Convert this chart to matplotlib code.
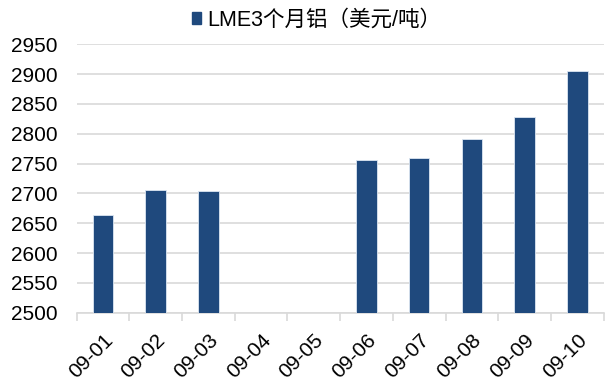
import numpy as np
import matplotlib
matplotlib.use("Agg")
import matplotlib.pyplot as plt
from matplotlib.patches import Patch

plt.rcParams['font.family'] = ['Liberation Sans', 'Noto Sans CJK SC', 'DejaVu Sans']

dates = ["09-01", "09-02", "09-03", "09-04", "09-05",
         "09-06", "09-07", "09-08", "09-09", "09-10"]
# no quotes on 09-04 / 09-05
prices = [2664, 2705, 2704, np.nan, np.nan, 2756, 2759, 2791, 2828, 2905]
series_name = "LME3个月铝（美元/吨）"
yticks = [2500, 2550, 2600, 2650, 2700, 2750, 2800, 2850, 2900, 2950]

BAR = "#1F497D"
GRID = "#D9D9D9"

fig = plt.figure(figsize=(6.06, 3.81), dpi=100)
ax = fig.add_axes([0.1266, 0.1793, 0.8695, 0.7044])

x = np.arange(len(dates))
ax.bar(x, prices, width=0.39, color=BAR, edgecolor="#DCE6F2", linewidth=0.6, zorder=3)

ax.set_xlim(-0.5, len(dates) - 0.5)
ax.set_ylim(2500, 2950)
ax.set_yticks(yticks)
ax.tick_params(axis="y", length=0, labelsize=15, pad=14)
ax.yaxis.grid(True, color=GRID, linewidth=1.2, zorder=0)

# category labels in the middle, tick marks on the boundaries
ax.set_xticks(x)
ax.set_xticklabels(dates, rotation=45, ha="right", rotation_mode="anchor", fontsize=15)
ax.tick_params(axis="x", which="major", length=0, pad=13)
ax.set_xticks(np.arange(-0.5, len(dates), 1), minor=True)
ax.tick_params(axis="x", which="minor", length=6, color=GRID, width=1.2)

for s in ["top", "right", "left"]:
    ax.spines[s].set_visible(False)
ax.spines["bottom"].set_color(GRID)
ax.spines["bottom"].set_linewidth(1.2)

fig.legend(handles=[Patch(color=BAR)], labels=[series_name],
           loc="center", bbox_to_anchor=(0.522, 0.947), frameon=False,
           fontsize=15.5, handlelength=0.45, handleheight=0.45, handletextpad=0.25)

fig.savefig("out.png", dpi=100, facecolor="white")
